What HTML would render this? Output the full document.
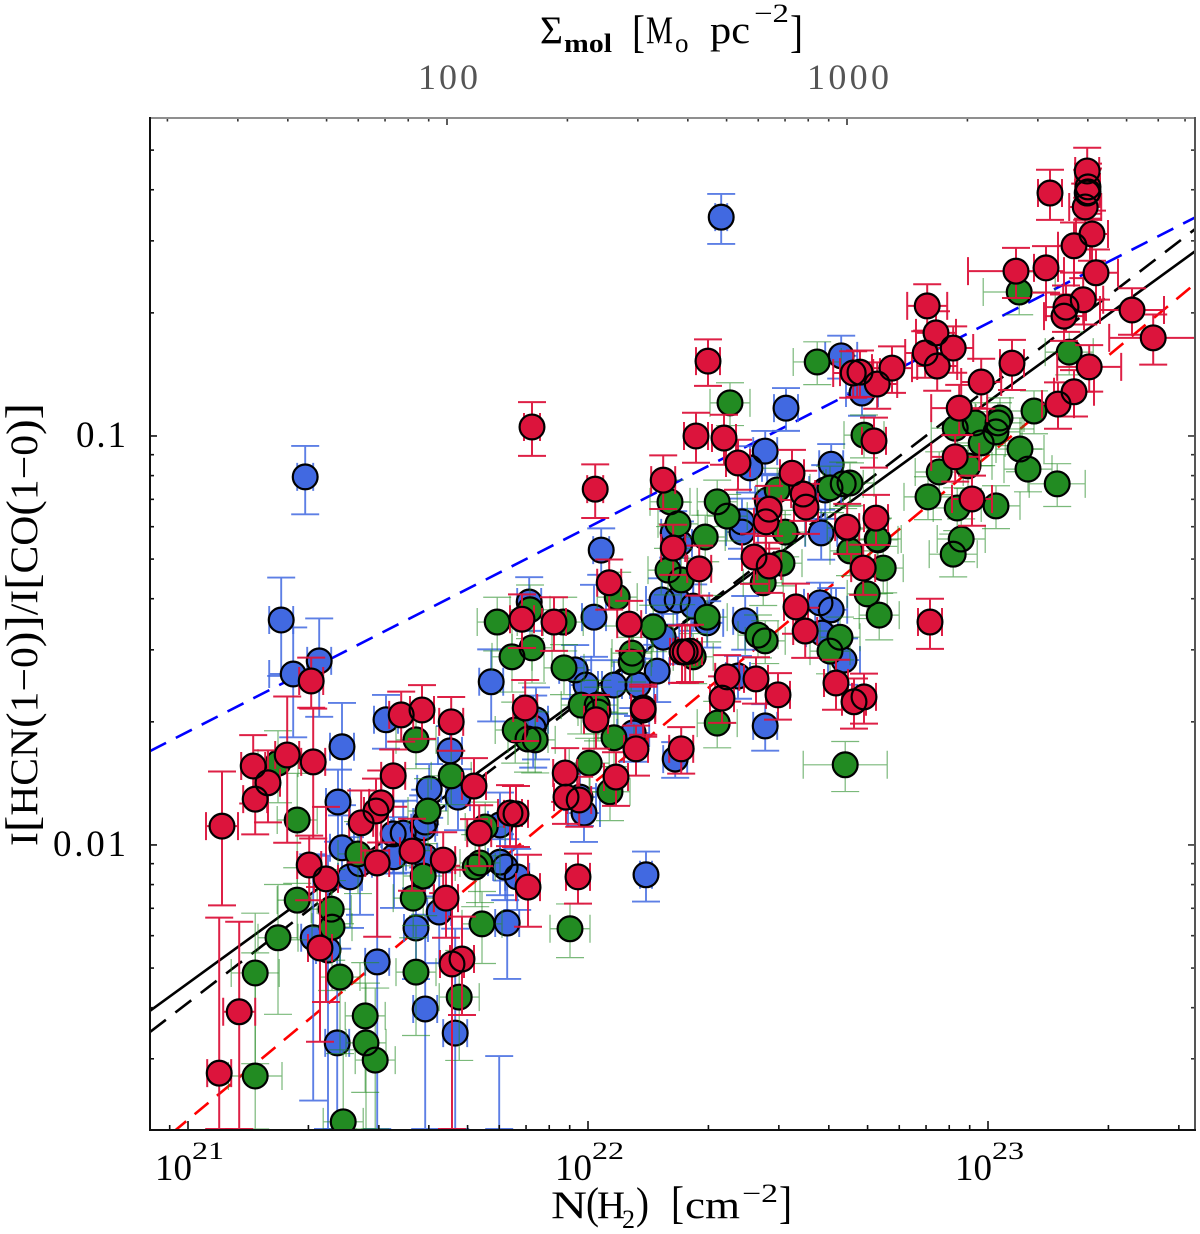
<!DOCTYPE html>
<html lang="en">
<head>
<meta charset="utf-8">
<title>HCN/CO ratio versus molecular hydrogen column density</title>
<style>
html,body{margin:0;padding:0;background:#fff;overflow:hidden;}
svg{display:block;}
text{font-family:"Liberation Serif","DejaVu Serif",serif;fill:#000;}
</style>
</head>
<body>
<svg id="chart" xmlns="http://www.w3.org/2000/svg" width="1200" height="1234" viewBox="0 0 1200 1234">
  <defs>
    <clipPath id="plot-clip"><rect x="150" y="118" width="1045" height="1012"/></clipPath>
  </defs>
  <rect x="0" y="0" width="1200" height="1234" fill="#fff"/>
  <g id="fit-lines" clip-path="url(#plot-clip)"></g>
  <g id="series-layer" clip-path="url(#plot-clip)"></g>
  <g id="tick-layer"></g>
  <line x1="149" y1="118" x2="1195" y2="118" stroke="#8f8f8f" stroke-width="2"/>
  <line x1="1195" y1="117" x2="1195" y2="1131" stroke="#555" stroke-width="2"/>
  <line x1="150" y1="117" x2="150" y2="1131" stroke="#111" stroke-width="2"/>
  <line x1="149" y1="1130" x2="1196" y2="1130" stroke="#111" stroke-width="2"/>

  <text transform="translate(37,846) rotate(-90)" font-size="39" textLength="443" lengthAdjust="spacingAndGlyphs">I<tspan font-size="46">[</tspan>HCN<tspan font-size="44">(</tspan>1−0<tspan font-size="44">)</tspan><tspan font-size="46">]</tspan>/I<tspan font-size="46">[</tspan>CO<tspan font-size="44">(</tspan>1−0<tspan font-size="44">)</tspan><tspan font-size="46">]</tspan></text>

  <text font-size="39" y="1218"><tspan x="551" textLength="36" lengthAdjust="spacingAndGlyphs">N</tspan><tspan x="586" y="1218" font-size="44" textLength="13" lengthAdjust="spacingAndGlyphs">(</tspan><tspan x="597" y="1218" textLength="28" lengthAdjust="spacingAndGlyphs">H</tspan><tspan x="622" y="1228" font-size="26">2</tspan><tspan x="636" y="1218" font-size="44" textLength="13" lengthAdjust="spacingAndGlyphs">)</tspan><tspan x="671" y="1218" font-size="46" textLength="13" lengthAdjust="spacingAndGlyphs">[</tspan><tspan x="685" y="1218" textLength="55" lengthAdjust="spacingAndGlyphs">cm</tspan><tspan x="742" y="1202" font-size="26" textLength="36" lengthAdjust="spacingAndGlyphs">−2</tspan><tspan x="779" y="1218" font-size="46" textLength="13" lengthAdjust="spacingAndGlyphs">]</tspan></text>

  <text font-size="39" y="43"><tspan x="540" textLength="23" lengthAdjust="spacingAndGlyphs">Σ</tspan><tspan x="564" y="52" font-size="26" font-weight="700" textLength="48" lengthAdjust="spacingAndGlyphs">mol</tspan><tspan x="632" y="47" font-size="46" textLength="13" lengthAdjust="spacingAndGlyphs">[</tspan><tspan x="646" y="43" textLength="27" lengthAdjust="spacingAndGlyphs">M</tspan><tspan x="675" y="52" font-size="27">o</tspan><tspan x="710" y="43" textLength="40" lengthAdjust="spacingAndGlyphs">pc</tspan><tspan x="754" y="22" font-size="26" textLength="35" lengthAdjust="spacingAndGlyphs">−2</tspan><tspan x="790" y="47" font-size="46" textLength="13" lengthAdjust="spacingAndGlyphs">]</tspan></text>
</svg>

<script>
// ---- axis domains and tick labels ----
const xDomainLog = [20.905, 23.5175];
const yDomainLog = [-2.697, -0.2225];
const xTickExponents = [21, 22, 23];
const yTickLogs = [-2, -1];
const yTickLabels = ['0.01', '0.1'];
const topTickLogs = [2, 3];
const topTickLabels = ['100', '1000'];
const minorMultiples = [2, 3, 4, 5, 6, 7, 8, 9];
const sigmaLogOffset = 19.6475;

// ---- fit lines: log R = intercept + slope * (log N - 21) ----
const fitBlackSolid = [-2.338, 0.7108];
const fitBlackDashed = [-2.386, 0.7514];
const fitBlueDashed = [-1.723, 0.4994];
const fitRedDashed = [-2.672, 0.812];

// ---- blue series ----
const blueLogN = [21.293,22.333,22.145,21.233,21.263,21.328,21.385,21.375,21.385,21.405,21.495,21.655,21.603,21.675,21.538,21.513,21.593,21.588,21.515,21.430,21.593,21.570,21.628,21.798,21.780,21.780,21.793,21.823,21.758,21.870,21.313,21.473,21.373,21.593,21.668,21.778,21.350,21.853,22.033,22.015,22.495,22.443,22.405,22.608,22.448,22.385,22.385,22.583,22.593,22.213,22.230,22.185,22.223,22.263,22.298,22.188,22.393,22.580,22.608,22.585,22.640,22.375,22.443,22.173,22.065,22.125,21.995,21.968,22.218,22.113,21.863,21.980,21.990,22.685,22.633];
const blueLogR = [-1.100,-0.465,-2.073,-1.450,-1.582,-1.550,-1.760,-1.895,-2.007,-2.078,-1.694,-1.770,-1.863,-1.883,-1.971,-1.973,-1.944,-1.958,-2.029,-2.046,-2.029,-2.203,-2.164,-2.191,-1.951,-2.042,-2.054,-2.078,-1.601,-1.694,-2.227,-2.286,-2.484,-2.401,-2.460,-2.795,-2.257,-1.406,-1.279,-1.443,-0.932,-1.037,-1.078,-1.069,-1.157,-1.235,-1.210,-1.237,-1.132,-1.237,-1.262,-1.401,-1.401,-1.416,-1.457,-1.492,-1.452,-1.408,-1.425,-1.482,-1.548,-1.587,-1.709,-1.575,-1.609,-1.609,-1.609,-1.572,-1.790,-1.726,-1.714,-1.883,-1.922,-0.895,-0.804];
const blueErrN = [.02,.015,.015,.03,.06,.03,.03,.03,.03,.03,.03,.03,.03,.03,.03,.03,.03,.03,.03,.03,.03,.03,.03,.03,.03,.03,.03,.03,.03,.03,.03,.03,.03,.03,.03,.03,.03,.03,.02,.03,.03,.03,.03,.03,.03,.04,.04,.04,.04,.03,.03,.04,.04,.04,.04,.04,.03,.04,.04,.04,.04,.03,.03,.03,.04,.04,.04,.04,.03,.04,.03,.04,.04,.04,.04];
const blueErrFrac = [.19,.14,.14,.27,.3,.27,.28,.2,.2,.25,.15,.15,.15,.17,.2,.2,.2,.2,.25,.25,.2,.25,.25,.27,.2,.17,.17,.17,.2,.2,.6,.7,.7,.7,.8,.9,.7,.15,.13,.2,.12,.12,.13,.12,.15,.14,.14,.14,.15,.13,.13,.13,.13,.13,.13,.14,.15,.12,.13,.13,.13,.12,.13,.16,.15,.16,.15,.15,.1,.15,.2,.15,.15,.12,.12];

// ---- green series ----
const greenLogN = [21.225,21.273,21.273,21.358,21.360,21.225,21.168,21.168,21.380,21.443,21.445,21.468,21.388,21.570,21.658,21.600,21.425,21.588,21.563,21.570,21.678,21.735,21.743,21.718,21.730,21.810,21.860,21.818,21.850,21.868,22.355,22.690,22.205,22.225,22.293,22.323,22.348,22.473,22.493,22.605,22.638,22.648,22.655,22.725,22.738,22.698,22.728,22.485,22.438,22.200,22.233,22.073,22.298,22.163,22.425,22.443,22.630,22.605,21.855,21.938,21.773,21.940,22.110,22.108,22.263,22.323,22.643,21.983,22.023,22.025,22.065,22.003,22.055,22.573,23.078,23.203,23.115,23.030,23.025,23.020,22.983,22.968,22.918,23.080,23.100,23.173,23.020,22.878,22.850,22.923,22.950,22.933,22.913,22.723,22.655,21.955];
const greenLogR = [-1.800,-1.939,-2.135,-2.157,-2.201,-2.227,-2.313,-2.565,-2.323,-2.418,-2.484,-2.526,-2.677,-1.743,-1.831,-1.917,-2.022,-2.076,-2.130,-2.311,-2.372,-2.193,-1.956,-2.054,-2.044,-1.540,-1.518,-1.719,-1.741,-1.743,-0.919,-0.998,-1.161,-1.215,-1.247,-1.161,-1.196,-1.132,-1.235,-1.127,-1.117,-1.225,-1.281,-1.254,-1.323,-1.386,-1.438,-1.311,-1.359,-1.328,-1.352,-1.394,-1.443,-1.467,-1.487,-1.501,-1.492,-1.526,-1.425,-1.455,-1.455,-1.567,-1.531,-1.553,-1.540,-1.702,-1.804,-1.658,-1.658,-1.675,-1.738,-1.800,-1.870,-0.819,-0.648,-0.795,-0.939,-0.956,-0.968,-0.990,-1.017,-0.968,-0.981,-1.032,-1.081,-1.117,-1.171,-1.088,-1.149,-1.176,-1.073,-1.252,-1.289,-1.252,-1.115,-2.205];
const greenErrN = [.05,.05,.05,.05,.05,.05,.06,.067,.05,.05,.05,.05,.05,.05,.05,.05,.05,.05,.05,.05,.05,.05,.05,.05,.05,.05,.05,.05,.05,.05,.05,.05,.05,.05,.05,.05,.05,.05,.05,.05,.05,.05,.05,.05,.05,.05,.05,.05,.05,.05,.05,.05,.05,.05,.05,.05,.05,.05,.05,.05,.05,.05,.05,.05,.05,.05,.105,.05,.05,.05,.05,.05,.05,.06,.09,.06,.06,.06,.06,.06,.06,.06,.06,.06,.06,.07,.06,.06,.06,.06,.06,.06,.06,.06,.06,.05];
const greenErrFrac = [.2,.3,.2,.25,.3,.35,.4,1,.35,.35,.4,.5,.5,.15,.15,.2,.2,.2,.2,.3,.3,.2,.15,.2,.2,.18,.18,.17,.17,.17,.12,.12,.13,.13,.13,.13,.13,.13,.13,.13,.13,.13,.13,.13,.13,.13,.13,.12,.12,.13,.13,.15,.13,.13,.12,.12,.12,.12,.15,.15,.15,.14,.15,.15,.14,.13,.14,.15,.15,.15,.15,.15,.15,.12,.12,.12,.12,.12,.12,.12,.12,.12,.12,.12,.12,.12,.12,.12,.12,.12,.12,.12,.12,.12,.12,.15];

// ---- red series ----
const redLogN = [21.085,21.078,21.128,21.163,21.168,21.200,21.248,21.308,21.313,21.303,21.345,21.330,21.433,21.470,21.483,21.513,21.533,21.585,21.658,21.473,21.560,21.638,21.645,21.715,21.728,21.843,21.805,21.820,21.850,21.660,21.685,21.860,22.018,22.188,22.270,22.340,22.375,22.715,22.510,22.538,22.545,22.453,22.445,22.648,22.720,22.415,22.453,22.213,22.278,22.053,22.688,22.520,22.543,22.103,21.835,21.915,22.235,22.243,22.255,22.348,22.335,22.420,22.475,22.620,22.665,22.690,22.138,22.138,22.020,22.120,22.233,21.943,22.070,21.945,21.978,21.975,22.855,22.300,23.248,23.155,23.250,23.250,23.248,23.243,23.260,23.215,23.145,23.070,23.270,23.238,23.195,23.190,22.848,22.870,22.913,22.843,22.873,23.360,23.413,23.060,23.253,22.983,23.215,23.175,22.928,22.760,22.680,22.663,22.723,22.918,22.960];
const redLogR = [-1.954,-2.558,-2.408,-1.807,-1.888,-1.848,-1.780,-1.599,-1.797,-2.049,-2.083,-2.252,-1.946,-1.917,-1.897,-1.831,-1.682,-1.670,-1.699,-2.044,-2.015,-2.037,-2.130,-1.856,-1.971,-1.665,-1.922,-1.924,-2.103,-2.291,-2.279,-0.978,-1.130,-1.108,-1.000,-1.005,-1.066,-1.012,-1.091,-1.142,-1.174,-1.179,-1.210,-1.223,-1.201,-1.296,-1.318,-1.274,-1.325,-1.359,-1.323,-1.418,-1.477,-1.460,-1.448,-1.455,-1.528,-1.528,-1.526,-1.589,-1.641,-1.594,-1.633,-1.604,-1.650,-1.638,-1.665,-1.670,-1.694,-1.765,-1.765,-1.824,-1.834,-1.883,-1.890,-2.078,-1.455,-0.817,-0.352,-0.406,-0.391,-0.403,-0.406,-0.440,-0.506,-0.535,-0.589,-0.597,-0.601,-0.667,-0.685,-0.707,-0.682,-0.748,-0.785,-0.797,-0.829,-0.692,-0.760,-0.822,-0.831,-0.868,-0.892,-0.922,-0.932,-0.834,-0.844,-0.846,-0.873,-1.051,-1.154];
const redErrN = [.04,.03,.04,.03,.03,.03,.03,.03,.03,.03,.03,.03,.03,.03,.03,.03,.03,.03,.03,.03,.03,.03,.03,.03,.03,.03,.03,.03,.03,.03,.03,.02,.02,.03,.03,.03,.03,.03,.03,.03,.03,.03,.03,.03,.03,.03,.03,.03,.03,.03,.03,.03,.03,.03,.03,.03,.03,.03,.03,.03,.03,.03,.03,.03,.03,.03,.03,.03,.03,.03,.03,.03,.03,.03,.03,.03,.03,.03,.03,.03,.03,.03,.03,.04,.04,.04,.03,.12,.055,.05,.05,.05,.05,.05,.05,.05,.05,.08,.11,.03,.08,.05,.05,.04,.07,.05,.05,.05,.05,.06,.05];
const redErrFrac = [.36,1.4,.66,.19,.18,.2,.39,.14,.35,.18,.5,.41,.2,.2,.2,.16,.14,.15,.15,.34,.2,.17,.2,.17,.17,.17,.17,.17,.2,.7,.27,.15,.15,.15,.14,.14,.14,.14,.14,.14,.14,.14,.14,.14,.14,.14,.14,.14,.14,.14,.14,.14,.14,.14,.15,.15,.16,.16,.16,.13,.13,.13,.13,.14,.14,.14,.14,.14,.15,.14,.13,.15,.15,.14,.14,.14,.14,.13,.14,.14,.14,.14,.14,.14,.14,.14,.13,.14,.14,.13,.13,.13,.13,.13,.13,.13,.13,.13,.14,.14,.13,.14,.13,.13,.14,.13,.13,.13,.13,.13,.14];

// ---- axis functions ----
const plotLeft = 150, plotRight = 1195, plotTop = 118, plotBottom = 1130;
function xScale(logN) {
  return plotLeft + (logN - xDomainLog[0]) / (xDomainLog[1] - xDomainLog[0]) * (plotRight - plotLeft);
}
function yScale(logR) {
  return plotBottom - (logR - yDomainLog[0]) / (yDomainLog[1] - yDomainLog[0]) * (plotBottom - plotTop);
}
const NS = 'http://www.w3.org/2000/svg';
function make(tag, attrs, parent) {
  const el = document.createElementNS(NS, tag);
  for (const k in attrs) el.setAttribute(k, attrs[k]);
  parent.appendChild(el);
  return el;
}

// ---- fit lines ----
function drawFit(fit, color, dash, name) {
  const layer = document.getElementById('fit-lines');
  const x0 = xDomainLog[0], x1 = xDomainLog[1];
  const el = make('line', {
    x1: xScale(x0), y1: yScale(fit[0] + fit[1] * (x0 - 21)),
    x2: xScale(x1), y2: yScale(fit[0] + fit[1] * (x1 - 21)),
    stroke: color, 'stroke-width': 2.6, 'stroke-dasharray': dash
  }, layer);
  
  
}
drawFit(fitBlackSolid, '#000', 'none', 'fit-line-black-solid');
drawFit(fitBlackDashed, '#000', '20 12', 'fit-line-black-dashed');
drawFit(fitBlueDashed, '#0000ff', '18 11', 'fit-line-blue-dashed');
drawFit(fitRedDashed, '#ff0000', '18 11', 'fit-line-red-dashed');

// ---- series ----
function drawSeries(name, logN, logR, errN, errFrac, color, errWidth, errOpacity) {
  const layer = document.getElementById('series-layer');
  const group = make('g', {}, layer);
  
  
  const errGroup = make('g', { stroke: color, 'stroke-width': errWidth, 'stroke-opacity': errOpacity, fill: 'none' }, group);
  
  
  const capHalf = 14;
  const capFloor = plotBottom - 1;
  logN.forEach(function (n, i) {
    const r = logR[i];
    const cx = xScale(n), cy = yScale(r);
    const xl = xScale(n - errN[i]), xr = xScale(n + errN[i]);
    const hiVal = 1 + errFrac[i], loVal = 1 - errFrac[i];
    const yt = Math.min(yScale(r + Math.log10(hiVal)), capFloor);
    const yb = loVal > 0 ? Math.min(yScale(r + Math.log10(loVal)), capFloor) : capFloor;
    let d = 'M' + cx + ' ' + yt + 'V' + yb;
    d += 'M' + (cx - capHalf) + ' ' + yt + 'H' + (cx + capHalf);
    d += 'M' + (cx - capHalf) + ' ' + yb + 'H' + (cx + capHalf);
    if (cy <= plotBottom) {
      d += 'M' + xl + ' ' + cy + 'H' + xr;
      d += 'M' + xl + ' ' + (cy - capHalf) + 'V' + Math.min(cy + capHalf, plotBottom);
      d += 'M' + xr + ' ' + (cy - capHalf) + 'V' + Math.min(cy + capHalf, plotBottom);
    }
    const bar = make('path', { d: d }, errGroup);
    
    
  });
  // fills first, then black rings, so same-colour overlaps show every outline
  const rad = 12.4;
  logN.forEach(function (n, i) {
    if (yScale(logR[i]) > plotBottom + rad) return;
    const dot = make('circle', { cx: xScale(n), cy: yScale(logR[i]), r: rad, fill: color }, group);
    
    
  });
  logN.forEach(function (n, i) {
    if (yScale(logR[i]) > plotBottom + rad) return;
    const ring = make('circle', { cx: xScale(n), cy: yScale(logR[i]), r: rad, fill: 'none', stroke: '#000', 'stroke-width': 2.2 }, group);
    
    
  });
}
drawSeries('blue', blueLogN, blueLogR, blueErrN, blueErrFrac, '#4169e1', 1.9, 0.85);
drawSeries('green', greenLogN, greenLogR, greenErrN, greenErrFrac, '#228b22', 1.2, 0.6);
drawSeries('red', redLogN, redLogR, redErrN, redErrFrac, '#dc143c', 2, 0.95);

// ---- ticks and tick labels ----
const tickLayer = document.getElementById('tick-layer');
function tick(x1, y1, x2, y2, color, name) {
  const t = make('line', { x1: x1, y1: y1, x2: x2, y2: y2, stroke: color, 'stroke-width': 1.6 }, tickLayer);
  
  
}
for (let e = 20; e <= 23; e++) {
  if (xTickExponents.includes(e)) {
    tick(xScale(e), plotBottom, xScale(e), plotBottom - 9, '#111', 'x-major-tick');
  }
  minorMultiples.forEach(function (m) {
    const v = e + Math.log10(m);
    if (v > xDomainLog[0] && v < xDomainLog[1]) {
      tick(xScale(v), plotBottom, xScale(v), plotBottom - 5, '#111', 'x-minor-tick');
    }
  });
}
xTickExponents.forEach(function (e) {
  const tx = xScale(e);
  const label = make('text', { x: tx - 33, y: 1180, 'font-size': 37 }, tickLayer);
  
  
  const base = make('tspan', { textLength: 37, lengthAdjust: 'spacingAndGlyphs' }, label);
  base.textContent = '10';
  const sup = make('tspan', { x: tx + 4, y: 1159, 'font-size': 25, textLength: 32, lengthAdjust: 'spacingAndGlyphs' }, label);
  sup.textContent = String(e);
});
for (let e = -3; e <= -1; e++) {
  if (yTickLogs.includes(e)) {
    tick(plotLeft, yScale(e), plotLeft + 7, yScale(e), '#111', 'y-major-tick-left');
    tick(plotRight, yScale(e), plotRight - 7, yScale(e), '#333', 'y-major-tick-right');
  }
  minorMultiples.forEach(function (m) {
    const v = e + Math.log10(m);
    if (v > yDomainLog[0] && v < yDomainLog[1]) {
      tick(plotLeft, yScale(v), plotLeft + 4, yScale(v), '#111', 'y-minor-tick-left');
      tick(plotRight, yScale(v), plotRight - 4, yScale(v), '#333', 'y-minor-tick-right');
    }
  });
}
yTickLogs.forEach(function (v, i) {
  const lab = make('text', { x: 126, y: yScale(v) + 11, 'font-size': 37, 'text-anchor': 'end', textLength: yTickLabels[i].length === 3 ? 50 : 73, lengthAdjust: 'spacing' }, tickLayer);
  lab.textContent = yTickLabels[i];
  
  
});
for (let s = 1; s <= 3; s++) {
  if (topTickLogs.includes(s)) {
    tick(xScale(s + sigmaLogOffset), plotTop, xScale(s + sigmaLogOffset), plotTop + 7, '#333', 'top-major-tick');
  }
  minorMultiples.forEach(function (m) {
    const v = s + Math.log10(m) + sigmaLogOffset;
    if (v > xDomainLog[0] && v < xDomainLog[1]) {
      tick(xScale(v), plotTop, xScale(v), plotTop + 3.5, '#333', 'top-minor-tick');
    }
  });
}
topTickLogs.forEach(function (s, i) {
  const lab = make('text', { x: xScale(s + sigmaLogOffset) + 1, y: 89, 'font-size': 36, 'text-anchor': 'middle', textLength: topTickLabels[i].length === 3 ? 60 : 82, lengthAdjust: 'spacing' }, tickLayer);
  lab.style.fill = '#555';
  lab.textContent = topTickLabels[i];
  
  
});
</script>
</body>
</html>
